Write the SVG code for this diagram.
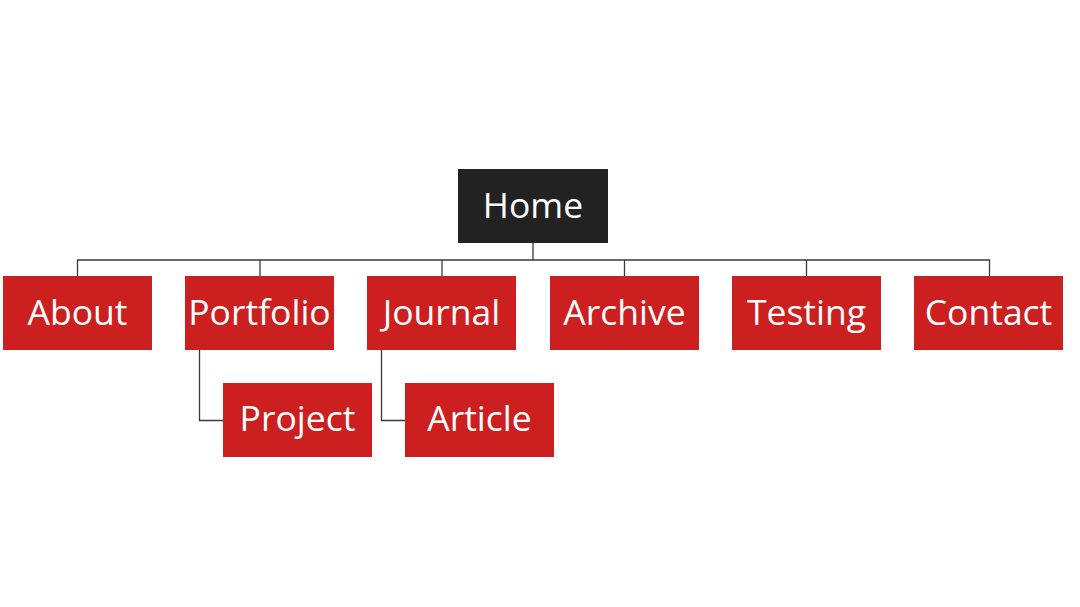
<svg xmlns="http://www.w3.org/2000/svg" width="1080" height="607" viewBox="0 0 1080 607">
<style>
.n{fill:#CC1F20}
.h{fill:#222222}
.t{font-family:"Open Sans","Noto Sans",sans-serif;font-size:35.5px;fill:#ffffff;text-anchor:middle}
.c{fill:none;stroke:#3a3a3a;stroke-width:1.3}
</style>
<rect width="1080" height="607" fill="#ffffff"/>
<g id="connectors">
<path class="c" d="M533 243V260M77.5 276V260H989.5V276M260 260V276M442 260V276M624.5 260V276M806.5 260V276"/>
<path class="c" d="M199.5 350V420.5H223"/>
<path class="c" d="M381.5 350V420.5H405"/>
</g>
<g id="home"><rect class="h" x="458" y="169" width="150" height="74"/><text class="t" x="533" y="218">Home</text></g>
<g id="about"><rect class="n" x="3" y="276" width="149" height="74"/><text class="t" x="77.5" y="325">About</text></g>
<g id="portfolio"><rect class="n" x="185" y="276" width="149" height="74"/><text class="t" x="259.5" y="325">Portfolio</text></g>
<g id="journal"><rect class="n" x="367" y="276" width="149" height="74"/><text class="t" x="441.5" y="325">Journal</text></g>
<g id="archive"><rect class="n" x="550" y="276" width="149" height="74"/><text class="t" x="624.5" y="325">Archive</text></g>
<g id="testing"><rect class="n" x="732" y="276" width="149" height="74"/><text class="t" x="806.5" y="325">Testing</text></g>
<g id="contact"><rect class="n" x="914" y="276" width="149" height="74"/><text class="t" x="988.5" y="325">Contact</text></g>
<g id="project"><rect class="n" x="223" y="383" width="149" height="74"/><text class="t" x="297.5" y="431">Project</text></g>
<g id="article"><rect class="n" x="405" y="383" width="149" height="74"/><text class="t" x="479.5" y="431">Article</text></g>
</svg>
